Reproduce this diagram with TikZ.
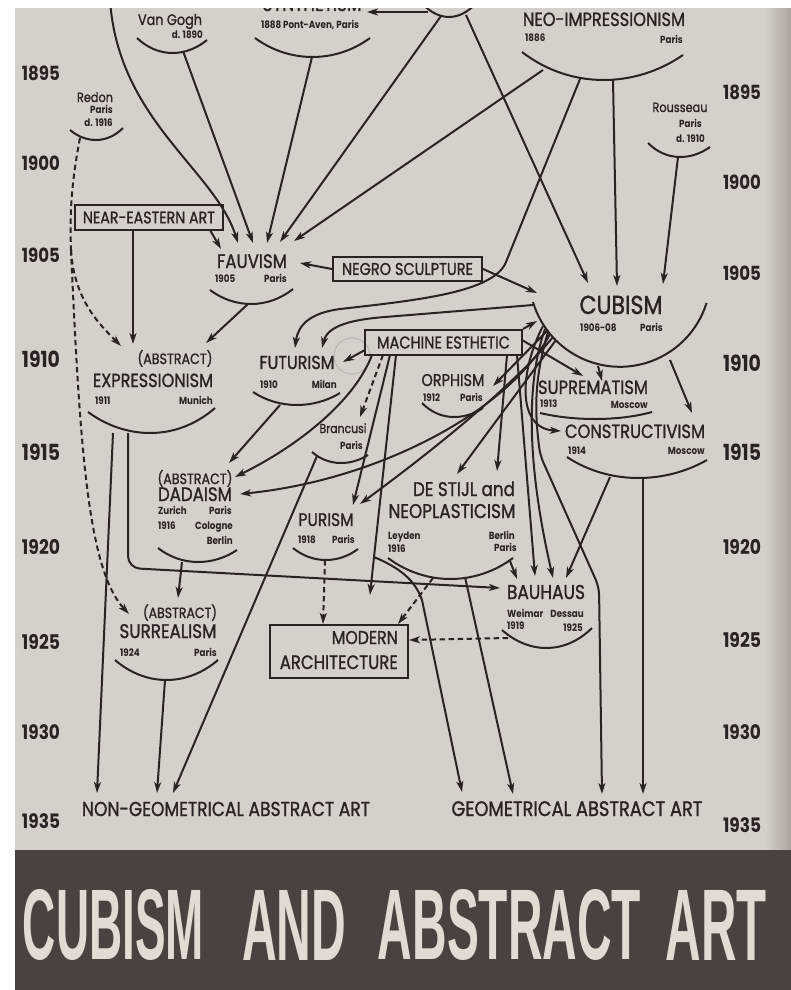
\documentclass[tikz,border=0pt]{standalone}
\usepackage{fontspec}
\usepackage{graphicx}
\usetikzlibrary{arrows.meta}
\newfontfamily\fut[FakeStretch=0.85,FakeBold=1.2]{Poppins}
\newfontfamily\futs[FakeStretch=0.85]{Poppins}
\newfontfamily\ttl{Liberation Sans}
\definecolor{paper}{HTML}{D6D0CB}
\definecolor{paperdk}{HTML}{ABA49F}
\definecolor{ink}{HTML}{2A2321}
\definecolor{band}{HTML}{4A423E}
\definecolor{ttlc}{HTML}{E2DBD4}
\newcommand{\fw}[2]{\resizebox{#1pt}{!}{#2}}
\newcommand{\lb}[5]{\node[lab,anchor=base] (#1) at (#2,#3) {\fw{#4}{#5}};}
\newcommand{\barc}[5]{\draw[ln] (#1,#2) .. controls ({#1+0.3*(#3-#1)},{#5+0.333*(#5-#2)}) and ({#3-0.3*(#3-#1)},{#5+0.333*(#5-#4)}) .. (#3,#4);}
\tikzset{
 ln/.style={draw=ink, line width=2pt},
 arr/.style={ln, -{Stealth[length=11pt,width=7pt,inset=3pt]}},
 darr/.style={arr, dash pattern=on 5.5pt off 3.5pt},
 dln/.style={ln, dash pattern=on 5.5pt off 3.5pt},
 lab/.style={font=\fut, text=ink, inner sep=0pt},
 sm/.style={font=\futs\bfseries\fontsize{10.3}{12}\selectfont, text=ink, inner sep=0pt},
 yr/.style={font=\futs\bfseries, text=ink, inner sep=0pt, anchor=base},
 bx/.style={draw=ink, line width=2pt, font=\fut, text=ink, inner sep=0pt},
 ttlw/.style={font=\ttl\bfseries, text=ttlc, inner sep=0pt},
}
\begin{document}
\begin{tikzpicture}[x=1pt,y=-1pt]
\useasboundingbox (0,0) rectangle (791,990);
\fill[white] (0,0) rectangle (791,990);
\fill[paper] (15,0) rectangle (791,850);
\shade[left color=paper, right color=paperdk] (765,0) rectangle (791,850);
\fill[band] (15,850) rectangle (791,990);

% title
\node[ttlw] (t1) at (113.5,925) {\resizebox{181pt}{70pt}{CUBISM}};
\node[ttlw] (t2) at (294,925) {\resizebox{104pt}{70pt}{AND}};
\node[ttlw] (t3) at (509.5,925) {\resizebox{263pt}{70pt}{ABSTRACT}};
\node[ttlw] (t4) at (716.5,925) {\resizebox{101pt}{70pt}{ART}};

% faint ring
\draw[gray, opacity=0.35, line width=1pt] (352,356) circle[radius=18];

% years
\foreach \n/\yy/\t in {a/80/1895,b/170/1900,c/262/1905,d/367/1910,e/460/1915,f/554/1920,g/649/1925,h/739/1930,i/828/1935}{
  \node[yr] (yl\n) at (41,\yy) {\fw{38}{\t}};}
\foreach \n/\yy/\t in {a/99/1895,b/189/1900,c/280/1905,d/371/1910,e/460/1915,f/554/1920,g/647/1925,h/739/1930,i/832/1935}{
  \node[yr] (yr\n) at (742,\yy) {\fw{38}{\t}};}

% ---- labels
\lb{syn}{312}{11}{99}{SYNTHETISM}
\node[sm,anchor=base] (syd) at (310,29) {1888 Pont-Aven, Paris};
\lb{vg}{170}{25}{64}{Van Gogh}
\node[sm,anchor=base east] (vgd) at (203,38) {d. 1890};
\lb{ni}{604}{26}{162}{NEO-IMPRESSIONISM}
\node[sm,anchor=base west] (nid) at (525,42) {1886};
\node[sm,anchor=base east] (nip) at (683,44) {Paris};
\lb{ro}{680}{112}{55}{Rousseau}
\node[sm,anchor=base east] (rop) at (702,127) {Paris};
\node[sm,anchor=base east] (rod) at (705,142) {d. 1910};
\lb{rd}{95}{102}{36}{Redon}
\node[sm,anchor=base east] (rdp) at (113,113) {Paris};
\node[sm,anchor=base east] (rdd) at (113,126) {d. 1916};
\lb{fv}{252}{268}{70}{FAUVISM}
\node[sm,anchor=base west] (fvd) at (215,282) {1905};
\node[sm,anchor=base east] (fvp) at (287,282) {Paris};
\lb{cb}{621}{314}{83}{CUBISM}
\node[sm,anchor=base west] (cbd) at (580,331) {1906-08};
\node[sm,anchor=base east] (cbp) at (663,331) {Paris};
\lb{exa}{175}{364}{75}{(ABSTRACT)}
\lb{ex}{153}{387}{120}{EXPRESSIONISM}
\node[sm,anchor=base west] (exd) at (95,404) {1911};
\node[sm,anchor=base east] (exp) at (213,404) {Munich};
\lb{fu}{297}{369}{75}{FUTURISM}
\node[sm,anchor=base west] (fud) at (260,388) {1910};
\node[sm,anchor=base east] (fup) at (337,388) {Milan};
\lb{or}{453}{386}{63}{ORPHISM}
\node[sm,anchor=base west] (ord) at (423,401) {1912};
\node[sm,anchor=base east] (orp) at (483,401) {Paris};
\lb{sp}{593}{394}{110}{SUPREMATISM}
\node[sm,anchor=base west] (spd) at (540,407) {1913};
\node[sm,anchor=base east] (spp) at (648,408) {Moscow};
\lb{co}{635}{438}{140}{CONSTRUCTIVISM}
\node[sm,anchor=base west] (cod) at (568,454) {1914};
\node[sm,anchor=base east] (cop) at (705,454) {Moscow};
\lb{br}{343}{433}{47}{Brancusi}
\node[sm,anchor=base east] (brp) at (363,449) {Paris};
\lb{dda}{195}{484}{75}{(ABSTRACT)}
\lb{dd}{195}{501}{74}{DADAISM}
\node[sm,anchor=base west] (dd1) at (158,514) {Zurich};
\node[sm,anchor=base east] (dd2) at (232,514) {Paris};
\node[sm,anchor=base west] (dd3) at (158,529) {1916};
\node[sm,anchor=base east] (dd4) at (233,529) {Cologne};
\node[sm,anchor=base east] (dd5) at (233,544) {Berlin};
\lb{pu}{326}{526}{55}{PURISM}
\node[sm,anchor=base west] (pud) at (298,543) {1918};
\node[sm,anchor=base east] (pup) at (355,543) {Paris};
\lb{ds}{464}{496}{102}{DE STIJL and}
\lb{np}{452}{518}{127}{NEOPLASTICISM}
\node[sm,anchor=base west] (ds1) at (388,539) {Leyden};
\node[sm,anchor=base west] (ds2) at (388,552) {1916};
\node[sm,anchor=base east] (ds3) at (515,539) {Berlin};
\node[sm,anchor=base east] (ds4) at (517,551) {Paris};
\lb{bh}{546}{599}{78}{BAUHAUS}
\node[sm,anchor=base west] (bh1) at (507,617) {Weimar};
\node[sm,anchor=base east] (bh2) at (584,617) {Dessau};
\node[sm,anchor=base west] (bh3) at (507,629) {1919};
\node[sm,anchor=base east] (bh4) at (583,631) {1925};
\lb{sua}{180}{618}{74}{(ABSTRACT)}
\lb{su}{168}{638}{97}{SURREALISM}
\node[sm,anchor=base west] (sud) at (120,656) {1924};
\node[sm,anchor=base east] (sup) at (217,656) {Paris};
\node[lab,anchor=base east] (ma1) at (398,644) {\fw{66}{MODERN}};
\node[lab,anchor=base east] (ma2) at (398,669) {\fw{118}{ARCHITECTURE}};
\lb{ng}{226}{816}{288}{NON-GEOMETRICAL ABSTRACT ART}
\lb{geo}{577}{816}{251}{GEOMETRICAL ABSTRACT ART}

% ---- boxes
\node[bx, minimum width=148pt, minimum height=25pt] (ne) at (149,217.5) {\fw{132}{NEAR-EASTERN ART}};
\node[bx, minimum width=149pt, minimum height=24pt] (ns) at (407.5,269) {\fw{131}{NEGRO SCULPTURE}};
\node[bx, minimum width=157pt, minimum height=25pt] (me) at (443.5,342.5) {\fw{133}{MACHINE ESTHETIC}};
\node[bx, minimum width=138pt, minimum height=53pt] (ma) at (339,651.5) {};

% ---- arcs
\barc{137}{38}{207}{40}{53}
\barc{255}{38}{370}{38}{57}
\barc{416}{-4}{482}{-4}{17}
\barc{522}{52}{683}{55}{80}
\barc{648}{143}{710}{147}{157}
\barc{70}{130}{123}{128}{140}
\barc{210}{290}{293}{289}{304}
\draw[ln] (533,302) arc[start angle=163.4, end angle=17.2, radius=90.7];
\barc{88}{412}{215}{408}{433}
\barc{253}{392}{340}{393}{405}
\barc{422}{403}{483}{408}{417}
\barc{540}{413}{652}{412}{419}
\barc{567}{457}{707}{460}{478}
\barc{312}{452}{368}{455}{463}
\barc{158}{548}{237}{550}{562}
\barc{293}{548}{358}{549}{560}
\barc{388}{558}{513}{558}{579}
\barc{502}{630}{592}{628}{648}
\barc{115}{660}{218}{660}{680}

% ---- coordinates
\coordinate (jp-o) at (110,0);
\coordinate (fv-i1) at (238,243);
\coordinate (vg-o) at (183,51);
\coordinate (fv-i2) at (253,243);
\coordinate (sy-o) at (312,57);
\coordinate (fv-i3) at (267,243);
\coordinate (cz-o1) at (441,16);
\coordinate (fv-i4) at (280,242);
\coordinate (cz-o2) at (466,15);
\coordinate (cb-i1) at (588,283);
\coordinate (cz-o3) at (428,12);
\coordinate (sy-i) at (367,12);
\coordinate (ni-o1) at (543,70);
\coordinate (fv-i5) at (294,241);
\coordinate (ni-o2) at (580,79);
\coordinate (fu-i1) at (295,348);
\coordinate (ni-o3) at (613,80);
\coordinate (cb-i2) at (617,286);
\coordinate (ro-o) at (678,157);
\coordinate (cb-i3) at (663,284);
\coordinate (rd-o) at (80,138);
\coordinate (rd-s) at (71,250);
\coordinate (ex-i1) at (121,346);
\coordinate (su-i1) at (129,614);
\coordinate (ne-o1) at (133,230);
\coordinate (ex-i2) at (133,344);
\coordinate (ne-o2) at (210,230);
\coordinate (fv-i0) at (221,249);
\coordinate (fv-r) at (300,263);
\coordinate (cb-i4) at (537,293);
\coordinate (fv-o) at (248,304);
\coordinate (ex-i3) at (206,343);
\coordinate (ex-o1) at (113,433);
\coordinate (ng-i1) at (97,793);
\coordinate (ex-o2) at (128,433);
\coordinate (bh-i0) at (500,588);
\coordinate (fu-o) at (280,405);
\coordinate (dd-i1) at (229,463);
\coordinate (cb-tip) at (533,305);
\coordinate (fu-i2) at (322,348);
\coordinate (me-w) at (365,350);
\coordinate (fu-i3) at (343,362);
\coordinate (cb-i5) at (537,321);
\coordinate (me-o1) at (372,355);
\coordinate (dd-i2) at (235,477);
\coordinate (me-o2) at (383,355);
\coordinate (br-i) at (360,417);
\coordinate (me-o3) at (390,355);
\coordinate (pu-i1) at (353,505);
\coordinate (me-o4) at (396,355);
\coordinate (me-j) at (374,557);
\coordinate (ma-i0) at (370,595);
\coordinate (geo-i1) at (462,792);
\coordinate (me-o5) at (507,355);
\coordinate (ds-i1) at (497,471);
\coordinate (me-o6) at (517,355);
\coordinate (bh-i1) at (535,576);
\coordinate (me-o7) at (522,340);
\coordinate (sp-i1) at (583,376);
\coordinate (cb-a1) at (547,331);
\coordinate (or-i) at (493,386);
\coordinate (cb-a2) at (550,334);
\coordinate (dd-i3) at (240,494);
\coordinate (cb-a3) at (553,337);
\coordinate (pu-i2) at (360,504);
\coordinate (cb-a4) at (556,340);
\coordinate (ds-i2) at (457,474);
\coordinate (cb-a5) at (543,326);
\coordinate (co-i1) at (561,431);
\coordinate (cb-a6) at (545,329);
\coordinate (bh-i2) at (553,578);
\coordinate (cb-a7) at (548,332);
\coordinate (geo-i3) at (602,794);
\coordinate (cb-o8) at (598,366);
\coordinate (sp-i2) at (602,381);
\coordinate (cb-o9) at (670,360);
\coordinate (co-i2) at (692,413);
\coordinate (co-o1) at (610,477);
\coordinate (bh-i3) at (566,578);
\coordinate (co-o2) at (643,478);
\coordinate (geo-i4) at (643,794);
\coordinate (dd-o) at (182,562);
\coordinate (su-i2) at (178,598);
\coordinate (su-o) at (165,680);
\coordinate (ng-i2) at (157,793);
\coordinate (br-o) at (317,456);
\coordinate (ng-i3) at (173,793);
\coordinate (pu-o) at (325,560);
\coordinate (ma-i1) at (323,624);
\coordinate (ds-o1) at (510,561);
\coordinate (bh-i4) at (517,579);
\coordinate (ds-o2) at (433,578);
\coordinate (ma-i2) at (398,624);
\coordinate (ds-o3) at (465,577);
\coordinate (geo-i2) at (513,794);
\coordinate (bh-o) at (508,638);
\coordinate (ma-i3) at (409,640);

% ---- connectors
\draw[arr] (jp-o) .. controls (118,120) and (215,170) .. (fv-i1);
\draw[arr] (vg-o) -- (fv-i2);
\draw[arr] (sy-o) -- (fv-i3);
\draw[arr] (cz-o1) -- (fv-i4);
\draw[arr] (cz-o2) -- (cb-i1);
\draw[arr] (cz-o3) -- (sy-i);
\draw[arr] (ni-o1) -- (fv-i5);
\draw[arr] (ni-o2) -- (506,262) .. controls (494,292) and (420,300) .. (340,309) .. controls (310,313) and (298,325) .. (fu-i1);
\draw[arr] (ni-o3) -- (cb-i2);
\draw[arr] (ro-o) -- (cb-i3);
\draw[dln] (rd-o) .. controls (70,190) and (70,220) .. (rd-s);
\draw[darr] (rd-s) .. controls (74,300) and (100,325) .. (ex-i1);
\draw[darr] (rd-s) .. controls (80,450) and (88,570) .. (su-i1);
\draw[arr] (ne-o1) -- (ex-i2);
\draw[arr] (ne-o2) -- (fv-i0);
\draw[arr] (ns.west) -- (fv-r);
\draw[arr] (ns.east) -- (cb-i4);
\draw[arr] (fv-o) -- (ex-i3);
\draw[arr] (ex-o1) -- (ng-i1);
\draw[arr, rounded corners=12pt] (ex-o2) -- (128,568) -- (bh-i0);
\draw[arr] (fu-o) -- (dd-i1);
\draw[arr] (cb-tip) -- (385,317) .. controls (345,320) and (327,328) .. (fu-i2);
\draw[arr] (me-w) -- (fu-i3);
\draw[arr] (me.north east) -- (cb-i5);
\draw[arr] (me-o1) .. controls (355,400) and (300,445) .. (dd-i2);
\draw[darr] (me-o2) -- (br-i);
\draw[arr] (me-o3) -- (pu-i1);
\draw[ln] (me-o4) -- (me-j);
\draw[arr] (me-j) -- (ma-i0);
\draw[arr] (me-j) .. controls (400,568) and (415,580) .. (422,600) -- (geo-i1);
\draw[arr] (me-o5) -- (ds-i1);
\draw[arr] (me-o6) -- (bh-i1);
\draw[arr] (me-o7) -- (sp-i1);
\draw[arr] (cb-a1) -- (or-i);
\draw[arr] (cb-a2) .. controls (510,410) and (380,480) .. (dd-i3);
\draw[arr] (cb-a3) .. controls (510,390) and (420,460) .. (pu-i2);
\draw[arr] (cb-a4) -- (ds-i2);
\draw[arr] (cb-a5) .. controls (520,370) and (516,428) .. (co-i1);
\draw[arr] (cb-a6) .. controls (525,385) and (528,470) .. (bh-i2);
\draw[arr, rounded corners=8pt] (cb-a7) .. controls (532,385) and (536,420) .. (540,455) -- (599,587) -- (geo-i3);
\draw[arr] (cb-o8) -- (sp-i2);
\draw[arr] (cb-o9) -- (co-i2);
\draw[arr] (co-o1) -- (bh-i3);
\draw[arr] (co-o2) -- (geo-i4);
\draw[arr] (dd-o) -- (su-i2);
\draw[arr] (su-o) -- (ng-i2);
\draw[arr] (br-o) -- (ng-i3);
\draw[darr] (pu-o) -- (ma-i1);
\draw[arr] (ds-o1) -- (bh-i4);
\draw[darr] (ds-o2) -- (ma-i2);
\draw[arr] (ds-o3) -- (geo-i2);
\draw[darr] (bh-o) -- (ma-i3);

% top white strip (clips the cut-off top row)
\fill[white] (0,0) rectangle (791,8);
\fill[white] (0,0) rectangle (15,990);
\end{tikzpicture}
\end{document}
